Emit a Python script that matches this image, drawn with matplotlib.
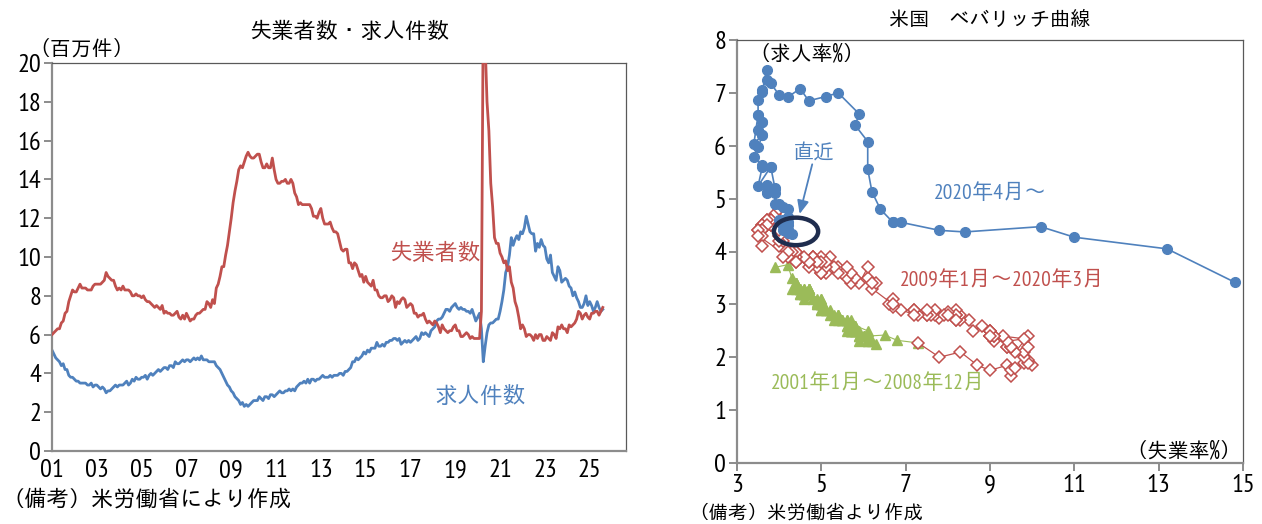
import matplotlib
matplotlib.use("Agg")
import matplotlib.pyplot as plt
from matplotlib import font_manager
from matplotlib.patches import Ellipse
import numpy as np

_names = {f.name for f in font_manager.fontManager.ttflist}
_cjk = [n for n in ("IPAGothic", "IPAPGothic") if n in _names][:1]
_narrow = [n for n in ("PT Sans Narrow", "Archivo Narrow", "Roboto Condensed") if n in _names][:1]
JPF = _cjk + ["Noto Sans CJK JP", "DejaVu Sans"]
MIX = _narrow + JPF
plt.rcParams["font.family"] = JPF

RED = "#C0504D"
BLUE = "#4F81BD"
GREEN = "#9BBB59"
NAVY = "#1F2D4E"

# ---------------- Left chart data (millions, monthly from Jan 2001) ----------------
unemployed = [
    6.0, 6.1, 6.2, 6.3, 6.3, 6.6, 6.7, 7.1, 7.2, 7.7, 8.0, 8.3,      # 2001
    8.2, 8.2, 8.4, 8.6, 8.4, 8.4, 8.4, 8.3, 8.3, 8.3, 8.5, 8.6,      # 2002
    8.6, 8.6, 8.6, 8.7, 8.8, 9.2, 9.0, 8.9, 8.8, 8.8, 8.5, 8.3,      # 2003
    8.4, 8.3, 8.5, 8.3, 8.3, 8.3, 8.2, 8.0, 8.0, 8.1, 8.0, 8.0,      # 2004
    7.9, 8.0, 7.8, 7.7, 7.7, 7.6, 7.5, 7.4, 7.5, 7.4, 7.3, 7.5,      # 2005
    7.1, 7.2, 7.1, 7.1, 7.0, 7.0, 7.1, 7.2, 6.9, 6.8, 7.0, 6.8,      # 2006
    7.1, 6.9, 6.7, 6.8, 6.8, 7.0, 7.1, 7.1, 7.2, 7.3, 7.3, 7.7,      # 2007
    7.6, 7.4, 7.8, 7.6, 8.4, 8.6, 9.0, 9.5, 9.5, 10.1, 10.6, 11.3,   # 2008
    12.0, 12.8, 13.4, 13.9, 14.5, 14.7, 14.6, 14.9, 15.2, 15.4, 15.2, 15.1,  # 2009
    15.1, 15.2, 15.3, 15.3, 14.9, 14.6, 14.6, 14.8, 14.6, 14.6, 15.1, 14.5,  # 2010
    14.0, 13.8, 13.8, 13.9, 13.9, 14.0, 13.8, 13.8, 14.0, 13.8, 13.3, 13.1,  # 2011
    12.7, 12.8, 12.7, 12.7, 12.7, 12.7, 12.7, 12.5, 12.1, 12.1, 12.0, 12.3,  # 2012
    12.5, 12.0, 11.7, 11.7, 11.7, 11.8, 11.5, 11.3, 11.3, 11.2, 10.8, 10.4,  # 2013
    10.3, 10.4, 10.4, 9.7, 9.7, 9.4, 9.7, 9.6, 9.3, 9.0, 9.1, 8.7,   # 2014
    9.0, 8.7, 8.6, 8.5, 8.8, 8.3, 8.3, 8.0, 7.9, 7.9, 8.0, 8.0,      # 2015
    7.7, 7.8, 8.0, 7.9, 7.4, 7.7, 7.6, 7.8, 7.9, 7.8, 7.4, 7.5,      # 2016
    7.6, 7.5, 7.1, 7.1, 6.9, 7.0, 7.0, 7.1, 6.8, 6.6, 6.7, 6.6,      # 2017
    6.5, 6.7, 6.6, 6.4, 6.1, 6.5, 6.3, 6.2, 6.1, 6.2, 6.2, 6.4,      # 2018
    6.5, 6.2, 6.2, 5.9, 5.9, 6.0, 6.1, 6.0, 5.8, 5.9, 5.8, 5.8,      # 2019
    5.8, 5.8, 7.2, 23.1, 21.0, 18.0, 16.5, 13.8, 12.6, 11.0, 10.7, 10.7,  # 2020
    10.2, 10.0, 9.7, 9.8, 9.3, 9.5, 8.7, 8.4, 7.7, 7.4, 6.9, 6.3,    # 2021
    6.5, 6.3, 5.9, 6.0, 6.0, 5.9, 5.7, 6.0, 5.8, 6.0, 6.0, 5.7,      # 2022
    5.7, 5.9, 5.8, 5.7, 6.1, 6.0, 5.8, 6.4, 6.3, 6.5, 6.3, 6.3,      # 2023
    6.1, 6.5, 6.4, 6.5, 6.6, 6.8, 7.2, 7.1, 6.8, 7.0, 7.1, 6.9,      # 2024
    6.8, 7.1, 7.1, 7.2, 7.2, 7.0, 7.2, 7.4,                          # 2025
]
openings = [
    5.2, 5.0, 4.8, 4.7, 4.6, 4.4, 4.5, 4.2, 4.2, 3.9, 3.8, 3.8,      # 2001
    3.7, 3.6, 3.6, 3.5, 3.5, 3.5, 3.5, 3.4, 3.4, 3.5, 3.3, 3.4,      # 2002
    3.4, 3.3, 3.2, 3.3, 3.2, 3.0, 3.1, 3.1, 3.2, 3.3, 3.4, 3.3,      # 2003
    3.4, 3.4, 3.4, 3.5, 3.6, 3.4, 3.5, 3.7, 3.6, 3.8, 3.7, 3.7,      # 2004
    3.8, 3.8, 3.9, 3.7, 3.9, 4.0, 3.9, 4.0, 4.1, 4.2, 4.1, 4.2,      # 2005
    4.3, 4.3, 4.2, 4.4, 4.4, 4.3, 4.6, 4.5, 4.5, 4.6, 4.7, 4.6,      # 2006
    4.7, 4.7, 4.6, 4.7, 4.8, 4.7, 4.8, 4.7, 4.9, 4.7, 4.7, 4.7,      # 2007
    4.6, 4.6, 4.6, 4.6, 4.4, 4.3, 4.2, 4.0, 3.8, 3.6, 3.4, 3.3,      # 2008
    3.1, 3.0, 2.8, 2.7, 2.6, 2.4, 2.5, 2.3, 2.4, 2.3, 2.4, 2.5,      # 2009
    2.6, 2.6, 2.6, 2.8, 2.7, 2.6, 2.8, 2.8, 2.7, 2.9, 2.9, 2.8,      # 2010
    2.9, 3.0, 3.1, 3.0, 3.0, 3.1, 3.1, 3.2, 3.1, 3.2, 3.1, 3.3,      # 2011
    3.4, 3.5, 3.5, 3.6, 3.5, 3.7, 3.5, 3.7, 3.7, 3.6, 3.7, 3.7,      # 2012
    3.8, 3.9, 3.8, 3.8, 3.8, 3.9, 3.8, 3.9, 3.9, 3.9, 4.0, 4.0,      # 2013
    3.9, 4.1, 4.1, 4.2, 4.3, 4.6, 4.6, 4.8, 4.7, 4.8, 4.9, 5.1,      # 2014
    5.0, 5.2, 5.1, 5.3, 5.3, 5.3, 5.6, 5.4, 5.4, 5.5, 5.4, 5.6,      # 2015
    5.6, 5.7, 5.7, 5.8, 5.8, 5.7, 5.8, 5.5, 5.6, 5.7, 5.6, 5.7,      # 2016
    5.6, 5.7, 5.8, 5.9, 5.7, 5.8, 6.1, 6.0, 6.1, 6.0, 5.9, 6.2,      # 2017
    6.3, 6.4, 6.7, 6.8, 6.8, 6.9, 7.1, 7.3, 7.3, 7.2, 7.4, 7.5,      # 2018
    7.6, 7.4, 7.3, 7.4, 7.3, 7.3, 7.2, 7.2, 7.1, 7.3, 7.0, 6.7,      # 2019
    6.9, 7.1, 6.3, 4.6, 5.4, 6.1, 6.5, 6.6, 6.6, 6.7, 6.8, 6.8,      # 2020
    7.2, 7.7, 8.3, 9.2, 9.5, 10.1, 11.0, 10.6, 10.9, 11.1, 10.9, 11.3,  # 2021
    11.2, 11.5, 12.1, 11.7, 11.3, 11.2, 11.2, 10.3, 10.7, 10.5, 10.9, 10.6,  # 2022
    10.5, 9.9, 9.7, 10.1, 9.2, 9.0, 8.8, 9.5, 9.3, 8.7, 8.8, 8.9,    # 2023
    8.8, 8.5, 8.4, 8.0, 8.2, 7.9, 7.7, 7.4, 7.4, 7.6, 8.0, 7.5,      # 2024
    7.7, 7.5, 7.2, 7.4, 7.7, 7.4, 7.2, 7.3,                          # 2025
]
start_year = 2001
x_tick_years = list(range(2001, 2026, 2))
x_tick_labels = ["01", "03", "05", "07", "09", "11", "13", "15", "17", "19", "21", "23", "25"]

# ---------------- Right chart data (%) ----------------
green_u = [3.9, 4.2, 4.3, 4.4, 4.3, 4.5, 4.6, 4.9, 5.0, 5.3, 5.5, 5.7,
           5.7, 5.7, 5.7, 5.9, 5.8, 5.8, 5.8, 5.7, 5.7, 5.7, 5.9, 6.0,
           5.8, 5.9, 5.9, 6.0, 6.1, 6.3, 6.2, 6.1, 6.1, 6.0, 5.8, 5.7,
           5.7, 5.6, 5.8, 5.6, 5.6, 5.6, 5.5, 5.4, 5.4, 5.5, 5.4, 5.4,
           5.3, 5.4, 5.2, 5.2, 5.1, 5.0, 5.0, 4.9, 5.0, 5.0, 5.0, 4.9,
           4.7, 4.8, 4.7, 4.7, 4.6, 4.6, 4.7, 4.7, 4.5, 4.4, 4.5, 4.4,
           4.6, 4.5, 4.4, 4.5, 4.4, 4.6, 4.7, 4.6, 4.7, 4.7, 4.7, 5.0,
           5.0, 4.9, 5.1, 5.0, 5.4, 5.6, 5.8, 6.1, 6.1, 6.5, 6.8, 7.3]
green_v = [3.70, 3.75, 3.5, 3.4, 3.3, 3.2, 3.1, 3.0, 2.9, 2.7, 2.7, 2.6,
           2.7, 2.6, 2.6, 2.5, 2.6, 2.5, 2.6, 2.5, 2.5, 2.6, 2.4, 2.4,
           2.5, 2.4, 2.3, 2.4, 2.3, 2.25, 2.3, 2.3, 2.35, 2.4, 2.5, 2.5,
           2.5, 2.5, 2.55, 2.6, 2.7, 2.6, 2.7, 2.7, 2.75, 2.7, 2.8, 2.8,
           2.8, 2.75, 2.9, 2.8, 2.9, 3.0, 3.0, 3.05, 3.0, 3.05, 3.0, 3.1,
           3.2, 3.1, 3.3, 3.3, 3.3, 3.2, 3.2, 3.3, 3.2, 3.3, 3.3, 3.4,
           3.3, 3.3, 3.4, 3.3, 3.4, 3.2, 3.3, 3.2, 3.3, 3.2, 3.2, 3.1,
           3.1, 3.0, 2.9, 2.9, 2.8, 2.7, 2.6, 2.5, 2.4, 2.42, 2.32, 2.27]

red_u = [7.3,
         7.8, 8.3, 8.7, 9.0, 9.4, 9.5, 9.5, 9.6, 9.8, 10.0, 9.9, 9.9,
         9.8, 9.8, 9.9, 9.9, 9.6, 9.4, 9.4, 9.5, 9.5, 9.4, 9.8, 9.3,
         9.1, 9.0, 9.0, 9.1, 9.0, 9.1, 9.0, 9.0, 9.0, 8.8, 8.6, 8.5,
         8.3, 8.3, 8.2, 8.2, 8.2, 8.2, 8.2, 8.0, 7.8, 7.8, 7.7, 7.9,
         8.0, 7.7, 7.5, 7.6, 7.5, 7.5, 7.3, 7.2, 7.2, 7.2, 6.9, 6.7,
         6.6, 6.7, 6.7, 6.2, 6.3, 6.1, 6.2, 6.1, 5.9, 5.7, 5.8, 5.6,
         5.7, 5.5, 5.4, 5.4, 5.6, 5.3, 5.2, 5.1, 5.0, 5.0, 5.1, 5.0,
         4.8, 4.9, 5.0, 5.1, 4.8, 4.9, 4.8, 4.9, 5.0, 4.9, 4.7, 4.7,
         4.7, 4.6, 4.4, 4.4, 4.4, 4.3, 4.3, 4.4, 4.3, 4.2, 4.2, 4.1,
         4.0, 4.1, 4.0, 4.0, 3.8, 4.0, 3.8, 3.8, 3.7, 3.8, 3.8, 3.9,
         4.0, 3.8, 3.8, 3.7, 3.6, 3.6, 3.7, 3.6, 3.5, 3.6, 3.6, 3.6,
         3.5, 3.5, 4.4]
red_v = [2.27,
         2.0, 2.1, 1.85, 1.75, 1.85, 1.65, 1.75, 1.8, 1.9, 1.85, 1.95, 1.9,
         2.0, 2.1, 2.2, 2.4, 2.1, 2.2, 2.2, 2.2, 2.2, 2.3, 2.35, 2.4,
         2.3, 2.4, 2.4, 2.4, 2.5, 2.4, 2.5, 2.5, 2.4, 2.6, 2.5, 2.7,
         2.7, 2.8, 2.8, 2.9, 2.7, 2.8, 2.7, 2.85, 2.8, 2.75, 2.8, 2.8,
         2.8, 2.9, 2.8, 2.8, 2.8, 2.9, 2.8, 2.9, 2.9, 2.8, 2.9, 2.95,
         3.0, 3.1, 3.0, 3.3, 3.4, 3.5, 3.4, 3.7, 3.4, 3.4, 3.5, 3.5,
         3.6, 3.6, 3.7, 3.6, 3.7, 3.7, 3.9, 3.6, 3.6, 3.7, 3.7, 3.6,
         3.9, 3.8, 3.9, 3.8, 3.9, 3.8, 3.9, 3.7, 3.8, 3.8, 3.7, 3.8,
         3.8, 3.9, 3.9, 3.8, 4.0, 3.9, 4.0, 4.0, 4.0, 3.9, 4.0, 3.9,
         4.1, 4.2, 4.2, 4.3, 4.5, 4.4, 4.5, 4.6, 4.6, 4.5, 4.6, 4.7,
         4.8, 4.6, 4.6, 4.6, 4.5, 4.5, 4.5, 4.4, 4.4, 4.4, 4.3, 4.1,
         4.4, 4.3, 3.8]

blue_u = [14.8, 13.2, 11.0, 10.2, 8.4, 7.8, 6.9, 6.7, 6.7,
          6.4, 6.2, 6.1, 6.1, 5.8, 5.9, 5.4, 5.1, 4.7, 4.5, 4.2, 4.0,
          3.8, 3.7, 3.7, 3.6, 3.6, 3.5, 3.5, 3.6, 3.5, 3.6, 3.6, 3.5,
          3.4, 3.6, 3.5, 3.4, 3.6, 3.6, 3.5, 3.8, 3.8, 3.9, 3.7, 3.7,
          3.7, 3.9, 3.9, 3.9, 4.0, 4.1, 4.2, 4.2, 4.1, 4.1, 4.2, 4.1,
          4.0, 4.1, 4.2, 4.2, 4.2, 4.1, 4.2, 4.3]
blue_v = [3.42, 4.05, 4.27, 4.47, 4.37, 4.40, 4.55, 4.55, 4.55,
          4.80, 5.13, 5.56, 6.08, 6.39, 6.60, 7.00, 6.93, 6.85, 7.08, 6.92, 6.96,
          7.18, 7.24, 7.43, 7.02, 7.05, 6.87, 6.58, 6.45, 6.29, 6.45, 6.20, 6.58,
          6.04, 6.20, 5.97, 5.79, 5.63, 5.60, 5.24, 5.60, 5.60, 5.20, 5.26, 5.10,
          5.13, 5.19, 5.10, 4.90, 4.90, 4.85, 4.66, 4.55, 4.60, 4.50, 4.80, 4.50,
          4.60, 4.50, 4.40, 4.40, 4.50, 4.40, 4.35, 4.34]

# ---------------- Figure ----------------
fig = plt.figure(figsize=(12.62, 5.24), dpi=100)

def style_spines(ax):
    for s in ("left", "bottom"):
        ax.spines[s].set_color("#8C8C8C")
        ax.spines[s].set_linewidth(1.6)
    for s in ("top", "right"):
        ax.spines[s].set_color("#595959")
        ax.spines[s].set_linewidth(0.9)

TICKSIZE = 19

# Left chart
ax1 = fig.add_axes([52 / 1262, 1 - 451 / 524, (626 - 52) / 1262, (451 - 63) / 524])
t = start_year + np.arange(len(unemployed)) / 12.0
ax1.plot(t, unemployed, color=RED, lw=2.0, zorder=3)
ax1.plot(t[:len(openings)], openings, color=BLUE, lw=2.0, zorder=2)
ax1.set_xlim(2001, 2026.62)
ax1.set_ylim(0, 20)
ax1.set_yticks(range(0, 21, 2))
ax1.set_yticklabels([str(v) for v in range(0, 21, 2)], fontsize=TICKSIZE, family=MIX)
ax1.set_xticks(x_tick_years)
ax1.set_xticklabels(x_tick_labels, fontsize=TICKSIZE, family=MIX)
ax1.tick_params(axis="y", direction="out", length=6, width=1.4, color="#8C8C8C", pad=2)
ax1.tick_params(axis="x", length=0, pad=6)
style_spines(ax1)
ax1.text(0.517, 1.085, "失業者数・求人件数", transform=ax1.transAxes, ha="center", va="center",
         fontsize=16)
ax1.text(-0.04, 1.037, "（百万件）", transform=ax1.transAxes, ha="left", va="center",
         fontsize=15)
ax1.text(2018.1, 10.3, "失業者数", color=RED, ha="center", va="center", fontsize=16.5)
ax1.text(2020.1, 2.9, "求人件数", color=BLUE, ha="center", va="center", fontsize=16.5)
fig.text(2 / 1262, 1 - 498 / 524, "（備考）米労働省により作成", ha="left", va="center",
         fontsize=16)

# Right chart
ax2 = fig.add_axes([737 / 1262, 1 - 463 / 524, (1243 - 737) / 1262, (463 - 40) / 524])
ax2.plot(green_u, green_v, color=GREEN, lw=0.8, marker="^", ms=7, mfc=GREEN, mec=GREEN, zorder=2)
ax2.plot(red_u, red_v, color=RED, lw=0.9, marker="D", ms=6.5, mfc="white", mec=RED, mew=1.1, zorder=3)
ax2.plot(blue_u, blue_v, color=BLUE, lw=1.2, marker="o", ms=7, mfc=BLUE, mec=BLUE, zorder=4)
ax2.set_xlim(3, 15)
ax2.set_ylim(0, 8)
ax2.set_xticks(range(3, 16, 2))
ax2.set_xticklabels([str(v) for v in range(3, 16, 2)], fontsize=TICKSIZE, family=MIX)
ax2.set_yticks(range(0, 9))
ax2.set_yticklabels([str(v) for v in range(0, 9)], fontsize=TICKSIZE, family=MIX)
ax2.tick_params(axis="both", direction="out", length=6, width=1.4, color="#8C8C8C", pad=2)
style_spines(ax2)

ell = Ellipse((4.40, 4.38), 1.05, 0.52, fill=False, edgecolor=NAVY, lw=3.2, zorder=6)
ax2.add_patch(ell)
ax2.annotate("", xy=(4.47, 4.66), xytext=(4.80, 5.70),
             arrowprops=dict(arrowstyle="-|>,head_length=0.8,head_width=0.35", color=BLUE, lw=1.3),
             zorder=7)
ax2.text(4.83, 5.88, "直近", color=BLUE, ha="center", va="center", fontsize=15)
ax2.text(9.0, 5.10, "2020年4月～", color=BLUE, ha="center", va="center", fontsize=15.5, family=MIX)
ax2.text(9.3, 3.46, "2009年1月～2020年3月", color=RED, ha="center", va="center", fontsize=15.5, family=MIX)
ax2.text(6.34, 1.52, "2001年1月～2008年12月", color=GREEN, ha="center", va="center", fontsize=15.5, family=MIX)
ax2.text(3.3, 7.75, "（求人率%）", ha="left", va="center", fontsize=15)
ax2.text(13.6, 0.25, "（失業率%）", ha="center", va="center", fontsize=15)
ax2.text(0.5, 1.05, "米国　ベバリッチ曲線", transform=ax2.transAxes, ha="center", va="center",
         fontsize=14.5)
fig.text(689 / 1262, 1 - 512 / 524, "（備考）米労働省より作成", ha="left", va="center",
         fontsize=14)

fig.savefig("out.png", dpi=100)
